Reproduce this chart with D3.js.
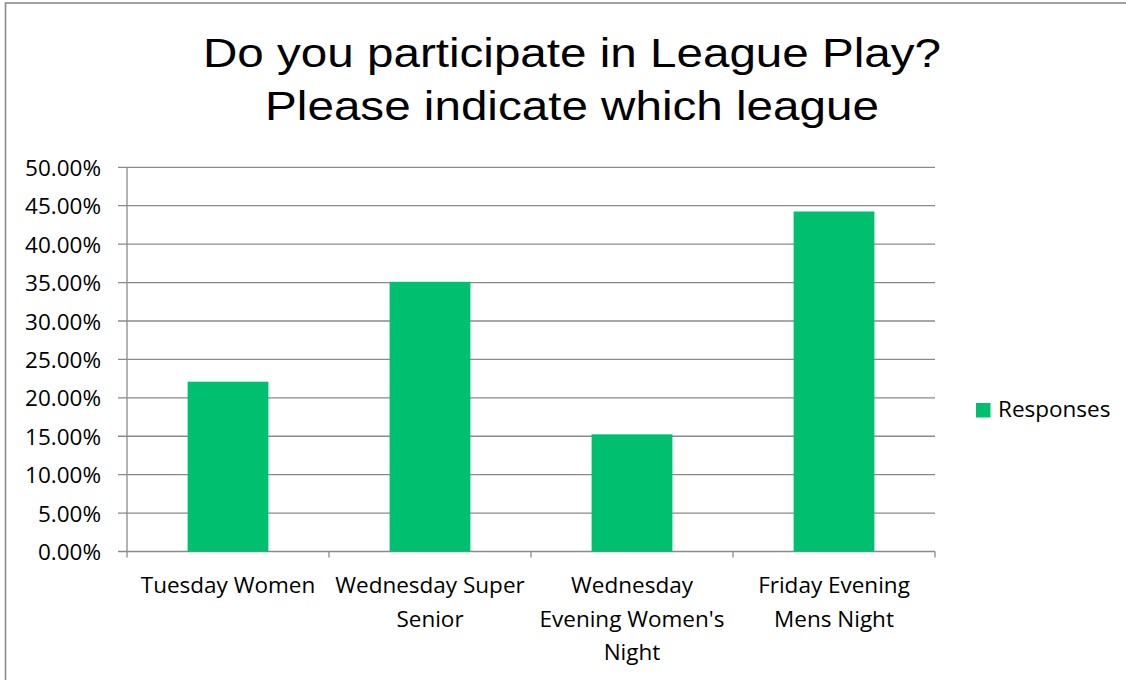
<!DOCTYPE html>
<html lang='en'>
	<head>
		<title>League Play</title>
		<meta charset=utf-8>
		<script src="https://cdn.jsdelivr.net/npm/d3@7"></script>
		<style>
			body {
				margin: 0;
				background-color: white;
			}
			.lab {
				font-family: "Open Sans", sans-serif;
				font-size: 22.5px;
				fill: #000;
			}
			.ttl {
				font-family: "Liberation Sans", Arial, sans-serif;
				font-size: 40px;
				fill: #000;
			}
		</style>
	</head>
	<body>
		<svg id='chart' width="1126" height="680"></svg>
	</body>

	<script>
		// data
		var categories = ["Tuesday Women", "Wednesday Super Senior", "Wednesday Evening Women's Night", "Friday Evening Mens Night"];
		var responses = [0.2210, 0.3510, 0.1525, 0.4425];
		var yTicks = [0, 0.05, 0.10, 0.15, 0.20, 0.25, 0.30, 0.35, 0.40, 0.45, 0.50];
		var titleLines = ["Do you participate in League Play?", "Please indicate which league"];
		var seriesName = "Responses";

		var green = "#00bf6f";
		var grey = "#8a8a8a";

		var svg = d3.select("#chart");

		// chart frame (only top and left edges show)
		svg.append('rect').attr('x', 5.5).attr('y', 3).attr('width', 1300).attr('height', 900)
			.attr('fill', 'none').attr('stroke', grey).attr('stroke-width', 1.6);

		// title - the original is stretched wide
		var title = svg.append('text').attr('class', 'ttl').attr('text-anchor', 'middle')
			.attr('transform', 'translate(572,0) scale(1.19,1)');
		titleLines.forEach(function(t, i) {
			title.append('tspan').attr('x', 0).attr('y', 67 + i * 53).text(t);
		});

		// scales
		var x = d3.scaleBand().domain(categories).range([127, 935]);
		var y = d3.scaleLinear().domain([0, 0.5]).range([551.5, 167.3]);

		// gridlines + y ticks
		yTicks.forEach(function(v) {
			svg.append('line').attr('x1', 118).attr('x2', 935)
				.attr('y1', y(v)).attr('y2', y(v))
				.attr('stroke', grey).attr('stroke-width', 1.3);
			svg.append('text').attr('class', 'lab').attr('text-anchor', 'end')
				.attr('x', 101).attr('y', y(v)).attr('dy', '0.38em')
				.text(d3.format('.2%')(v));
		});

		// y axis line
		svg.append('line').attr('x1', 127).attr('x2', 127)
			.attr('y1', y(0.5)).attr('y2', y(0))
			.attr('stroke', grey).attr('stroke-width', 1.3);

		// x axis ticks between categories
		var edges = categories.map(function(c) { return x(c); }).concat([x.range()[1]]);
		edges.forEach(function(e) {
			svg.append('line').attr('x1', e).attr('x2', e)
				.attr('y1', y(0)).attr('y2', y(0) + 6)
				.attr('stroke', grey).attr('stroke-width', 1.3);
		});

		// bars
		svg.selectAll('rect.bar').data(categories).enter().append('rect')
			.attr('class', 'bar')
			.attr('x', function(c) { return x(c) + x.bandwidth() * 0.3; })
			.attr('width', x.bandwidth() * 0.4)
			.attr('y', function(c, i) { return y(responses[i]); })
			.attr('height', function(c, i) { return y(0) - y(responses[i]); })
			.attr('fill', green);

		// category labels, wrapped to the band width
		var wrapWidth = x.bandwidth();
		categories.forEach(function(c) {
			var t = svg.append('text').attr('class', 'lab').attr('text-anchor', 'middle');
			var cx = x(c) + x.bandwidth() / 2;
			var words = c.split(' ');
			var lines = [];
			var line = [];
			var probe = t.append('tspan');
			words.forEach(function(w) {
				line.push(w);
				probe.text(line.join(' '));
				if (probe.node().getComputedTextLength() > wrapWidth && line.length > 1) {
					line.pop();
					lines.push(line.join(' '));
					line = [w];
				}
			});
			lines.push(line.join(' '));
			probe.remove();
			lines.forEach(function(l, i) {
				t.append('tspan').attr('x', cx).attr('y', 593 + i * 33.7).text(l);
			});
		});

		// legend
		svg.append('rect').attr('x', 976).attr('y', 403).attr('width', 14.5).attr('height', 14.5).attr('fill', green);
		svg.append('text').attr('class', 'lab').attr('x', 998).attr('y', 417).text(seriesName);
	</script>
</html>
